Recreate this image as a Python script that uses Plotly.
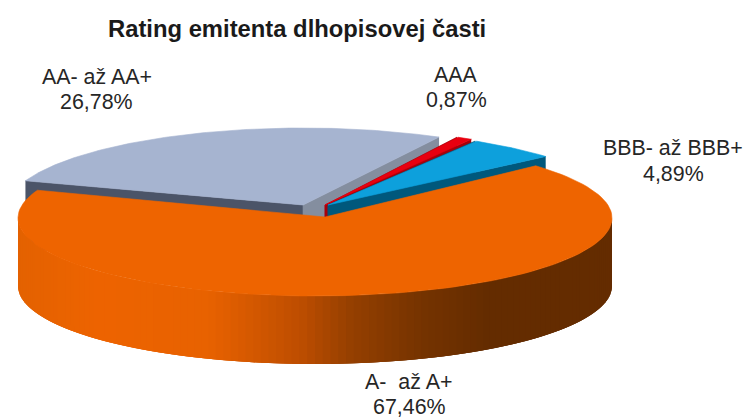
import numpy as np
import plotly.graph_objects as go

categories = ["A-  až A+", "AA- až AA+", "AAA", "BBB- až BBB+"]
shares = [67.46, 26.78, 0.87, 4.89]
share_labels = ["67,46%", "26,78%", "0,87%", "4,89%"]

top_colors = ["#ee6400", "#a6b4d0", "#e8000f", "#0da0dc"]
face_colors = ["#ee6400", "#848e9f", "#a8000a", "#00587c"]
left_face_colors = ["#ee6400", "#4b5468", "#a8000a", "#00587c"]
# rim centre, apex (pixel frame of the 744x418 page), minor radius
centers = [(315, 218), (303, 210), (321, 210), (325, 210)]
apexes = [(325, 217), (303, 205), (325, 205), (328, 205)]
minor = [78, 82, 82, 80]
major = 297
depth = 68
start_angle = 48
label_pos = [(408, 382), (97, 77), (456, 75), (673, 148)]
share_pos = [(409, 407), (96, 102), (456, 100), (673, 174)]

side_stops = [(18, (228, 98, 0)), (100, (238, 100, 0)), (210, (232, 98, 0)),
              (300, (190, 78, 0)), (350, (150, 64, 0)), (420, (118, 52, 0)),
              (490, (100, 44, 0)), (614, (100, 44, 0))]

fig = go.Figure()


def poly(xs, ys, color, width=0.6):
    fig.add_trace(go.Scatter(x=list(xs), y=list(ys), mode="lines", fill="toself",
                             fillcolor=color, line=dict(color=color, width=width),
                             hoverinfo="skip", showlegend=False))


def rim(i, a0, a1, n=120):
    t = np.radians(np.linspace(a0, a1, n))
    cx, cy = centers[i]
    return cx + major * np.sin(t), cy - minor[i] * np.cos(t)


spans = [s / sum(shares) * 360 for s in shares]
bounds = [start_angle]
for s in spans:
    bounds.append(bounds[-1] + s)

# painter order: back slices first, then the large front slice
for i in [1, 2, 3, 0]:
    a0, a1 = bounds[i], bounds[i + 1]
    ax, ay = apexes[i]
    if i == 0:
        # outer wall, split in overlapping vertical strips for the horizontal shading
        edges = np.linspace(90, 270, 121)
        px = [s[0] for s in side_stops]
        for e0, e1 in zip(edges[:-1], edges[1:]):
            x, y = rim(0, e0, min(e1 + 3, 270), 6)
            xm = rim(0, e0, e1, 6)[0].mean()
            rgb = [int(np.interp(xm, px, [s[1][k] for s in side_stops])) for k in range(3)]
            poly(np.r_[x, x[::-1]], np.r_[y, y[::-1] + depth], f"rgb({rgb[0]},{rgb[1]},{rgb[2]})", 0)
    else:
        # cut faces
        x0, y0 = rim(i, a0, a0, 1)
        x1, y1 = rim(i, a1, a1, 1)
        poly([x0[0], ax, ax, x0[0]], [y0[0], ay, ay + depth, y0[0] + depth], left_face_colors[i])
        poly([x1[0], ax, ax, x1[0]], [y1[0], ay, ay + depth, y1[0] + depth], face_colors[i])
    x, y = rim(i, a0, a1)
    poly(np.r_[ax, x, ax], np.r_[ay, y, ay], top_colors[i])

for name, pct, (lx, ly), (sx, sy) in zip(categories, share_labels, label_pos, share_pos):
    for txt, px_, py_ in [(name, lx, ly), (pct, sx, sy)]:
        fig.add_annotation(x=px_, y=py_, text=txt, showarrow=False,
                           xanchor="center", yanchor="middle",
                           font=dict(family="Liberation Sans", size=21.4, color="#262626"))

fig.add_annotation(x=297, y=28, text="<b>Rating emitenta dlhopisovej časti</b>", showarrow=False,
                   xanchor="center", yanchor="middle",
                   font=dict(family="Liberation Sans", size=23.8, color="#1a1a1a"))

fig.update_layout(width=744, height=418, margin=dict(l=0, r=0, t=0, b=0),
                  paper_bgcolor="white", plot_bgcolor="white", showlegend=False,
                  xaxis=dict(range=[0, 744], visible=False, fixedrange=True),
                  yaxis=dict(range=[418, 0], visible=False, fixedrange=True))
fig.write_html("out.html", config=dict(displayModeBar=False),
               default_width="744px", default_height="418px",
               post_script="document.body.style.margin='0';document.documentElement.style.overflow='hidden';")
